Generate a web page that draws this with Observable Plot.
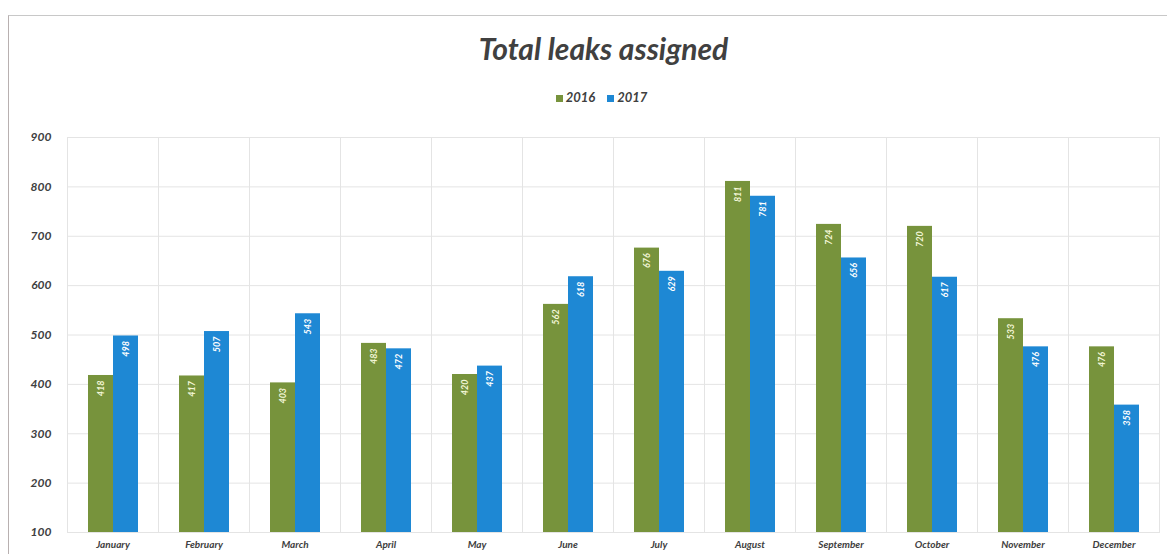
<!DOCTYPE html>
<html>
<head>
<meta charset="utf-8">
<script src="https://cdn.jsdelivr.net/npm/d3@7"></script>
<script src="https://cdn.jsdelivr.net/npm/@observablehq/plot@0.6"></script>
<style>
  html, body { margin: 0; padding: 0; background: #fff; }
  body { width: 1167px; height: 554px; overflow: hidden; position: relative; font-family: Lato, "Open Sans", sans-serif; }
  #frame { position: absolute; left: 8px; top: 15px; right: 0; bottom: 0; border-left: 1px solid #b8b0b0; border-top: 1px solid #c8c8c8; }
  #title { position: absolute; top: 30px; left: 20px; width: 1167px; text-align: center; font-size: 30px; font-weight: 700; font-style: italic; color: #404040; }
  #legend { position: absolute; top: 89px; left: 18px; width: 1167px; text-align: center; font-size: 13px; font-weight: 700; font-style: italic; color: #404040; }
  #legend span.sw { display: inline-block; width: 7px; height: 7px; margin-right: 3px; vertical-align: 0px; }
  #legend span.item { margin: 0 6px; }
  #chart { position: absolute; top: 120px; left: 0; }
</style>
</head>
<body>
<div id="frame"></div>
<div id="title">Total leaks assigned</div>
<div id="legend"></div>
<div id="chart"></div>
<script>
const months = ["January","February","March","April","May","June","July","August","September","October","November","December"];
const years = ["2016","2017"];
const values2016 = [418, 417, 403, 483, 420, 562, 676, 811, 724, 720, 533, 476];
const values2017 = [498, 507, 543, 472, 437, 618, 629, 781, 656, 617, 476, 358];
const yTicks = [100, 200, 300, 400, 500, 600, 700, 800, 900];
const colors = ["#77933c", "#1e88d4"];

const data = [];
months.forEach((m, i) => {
  data.push({month: m, year: "2016", value: values2016[i]});
  data.push({month: m, year: "2017", value: values2017[i]});
});

const legend = document.getElementById("legend");
years.forEach((y, i) => {
  const it = document.createElement("span");
  it.className = "item";
  it.innerHTML = `<span class="sw" style="background:${colors[i]}"></span>${y}`;
  legend.appendChild(it);
});

const chart = Plot.plot({
  width: 1167,
  height: 434,
  marginTop: 17,
  marginBottom: 22,
  marginLeft: 61,
  marginRight: 3,
  style: {fontFamily: "Lato, 'Open Sans', sans-serif", fontWeight: "700", fontStyle: "italic", color: "#404040", background: "transparent"},
  fx: {domain: months, padding: 0, label: null, tickSize: 0, tickPadding: 8, axis: "bottom", fontSize: 10},
  x: {domain: years, paddingInner: 0, paddingOuter: 0.78, axis: null},
  y: {domain: [100, 900], ticks: yTicks, label: null, tickSize: 0, tickPadding: 16},
  color: {domain: years, range: colors},
  marks: [
    Plot.ruleY(yTicks, {y: d => d, stroke: "#e4e4e4", strokeWidth: 1}),
    Plot.frame({stroke: "#e4e4e4"}),
    Plot.barY(data, {fx: "month", x: "year", y1: 100, y2: "value", fill: "year"}),
    Plot.text(data, {fx: "month", x: "year", y: "value", text: d => String(d.value), rotate: -90, textAnchor: "end", dy: 5, fill: d => d.year === "2016" ? "#f4f7d8" : "#ffffff", fontSize: 9, fontWeight: 700, fontStyle: "italic", lineAnchor: "middle"}),
    Plot.axisY({ticks: yTicks, tickSize: 0, tickPadding: 16, fontSize: 12, label: null})
  ]
});
document.getElementById("chart").appendChild(chart);
</script>
</body>
</html>
